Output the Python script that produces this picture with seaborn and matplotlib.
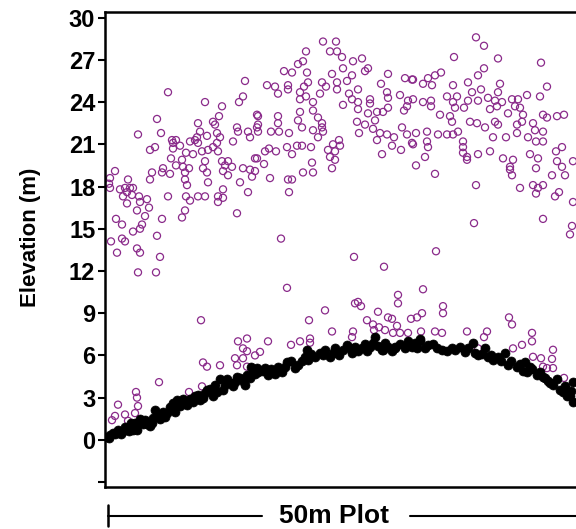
import matplotlib
matplotlib.use('Agg')
import matplotlib.pyplot as plt
import seaborn as sns
from matplotlib.lines import Line2D

sns.set_theme(style='white')
plt.rcParams['font.family'] = ['Liberation Sans', 'DejaVu Sans']
plt.rcParams['text.color'] = 'black'
plt.rcParams['axes.labelcolor'] = 'black'
plt.rcParams['ytick.color'] = 'black'

# Canopy returns (open purple circles): x = distance along plot (m), y = elevation (m)
canopy_x = [
    14.0, 6.3, 13.8, 13.4, 10.0, 11.7, 15.2, 11.4, 5.2, 9.3, 10.8, 11.0, 13.2, 15.2, 5.6, 3.3, 9.5, 11.2,
    13.3, 14.3, 9.2, 10.2, 11.5, 14.5, 6.7, 7.1, 8.5, 9.0, 12.8, 6.8, 11.2, 9.3, 7.5, 5.0, 4.5, 10.8,
    10.3, 6.8, 11.3, 8.1, 8.8, 9.7, 6.6, 7.7, 10.0, 11.7, 12.3, 15.0, 7.1, 7.8, 12.0, 12.7, 5.8, 8.4,
    9.8, 13.8, 14.5, 15.0, 1.0, 4.7, 5.7, 6.5, 8.0, 10.2, 11.8, 12.3, 14.7, 0.5, 4.5, 8.0, 10.3, 2.3,
    13.5, 0.4, 0.5, 8.2, 1.5, 2.0, 2.5, 2.8, 11.8, 14.3, 2.2, 2.7, 1.8, 6.3, 3.4, 8.1, 9.3, 10.0, 11.3,
    11.8, 4.2, 2.2, 3.5, 8.5, 11.3, 4.4, 3.2, 8.0, 13.2, 4.0, 1.1, 5.7, 7.7, 1.7, 3.7, 3.5, 2.8, 5.2,
    1.7, 2.0, 0.6, 3.2, 3.5, 1.2, 5.5, 3.3, 5.1,
    9.6, 13.3, 14.2, 13.8, 14.2, 15.0, 13.0, 13.8, 9.8, 10.2, 11.5, 13.2, 14.2, 5.4, 3.1, 3.2, 9.7,
    3.3, 1.3, 3.0, 2.0, 1.0, 0.7, 2.3, 8.4,
    24.9, 27.9, 18.2, 29.3, 29.3, 25.0, 25.3, 25.6, 22.0, 27.3, 20.4, 26.2, 28.3, 28.7, 30.6, 26.8,
    27.4, 29.2, 22.7, 24.8, 26.9, 28.0, 28.8, 29.5, 30.3, 16.3, 19.5, 20.5, 24.7, 20.5, 18.6, 15.5,
    33.1, 31.8, 33.8, 33.8, 31.7, 31.2, 40.4, 40.7, 31.6, 33.0, 33.7, 36.2, 38.2, 37.9, 42.7, 42.7,
    41.7, 40.8, 44.8, 37.3, 42.8, 43.6, 44.7, 43.8, 44.2, 44.8, 45.9,
    21.8, 23.1, 20.1, 22.5, 23.2, 23.7, 24.8, 25.7, 19.8, 19.3, 23.8, 26.0, 26.3, 17.9, 18.7, 20.2,
    28.3, 22.7, 24.7, 20.3, 21.7, 23.2, 24.2, 30.0, 30.7, 16.2, 17.0, 18.3, 19.9, 22.1, 27.6, 18.3,
    23.2, 25.3, 17.3, 19.5, 21.5, 20.1, 24.4, 28.2, 29.5, 19.5, 20.8, 24.7, 26.5, 28.3, 30.3, 23.8,
    25.3, 26.5, 28.3, 30.2, 19.5, 20.8, 25.3, 26.3, 27.2, 27.8, 29.9, 17.3, 15.3, 19.3, 21.3, 21.7,
    25.2, 27.0, 15.3, 17.3, 19.7, 21.7, 26.0, 29.7, 15.3, 16.6, 17.4, 18.4, 20.8, 21.8, 25.4, 26.8,
    27.5, 28.2, 30.2, 21.3, 27.2, 23.4, 28.9, 30.7, 18.2, 19.2, 19.7, 20.6, 22.8, 23.5, 28.7, 29.6,
    16.4, 22.3, 23.0, 16.0, 17.1, 18.7, 27.7, 22.5, 23.0, 15.2, 15.9, 20.7, 22.7, 19.8, 20.8, 16.5,
    18.3, 18.7, 18.4, 17.6,
    37.1, 37.9, 34.9, 39.3, 43.6, 37.9, 33.6, 33.0, 32.3, 31.8, 32.7, 37.3, 34.8, 36.3, 39.5, 44.2,
    30.8, 37.6, 36.7, 43.5, 42.2, 39.3, 34.2, 35.2, 38.3, 40.7, 41.3, 30.8, 31.8, 32.6, 34.8, 36.3,
    37.3, 39.0, 39.7, 32.6, 35.0, 35.9, 38.5, 39.2, 41.0, 41.5, 41.8, 40.3, 33.5, 34.5, 43.8, 45.2,
    45.9, 44.2, 34.7, 36.5, 37.2, 38.0, 39.0, 39.3, 41.2, 41.7, 42.8, 35.3, 34.8, 34.2, 33.3, 32.2,
    31.1, 38.8, 40.1, 41.2, 43.0, 43.8, 42.3, 43.1, 43.8, 35.8, 32.2, 30.8, 32.3, 35.8, 35.8, 36.2,
    36.2, 37.3, 38.5, 42.5, 43.3, 45.1, 45.7, 46.8, 32.0, 31.1, 39.8, 40.8, 45.2, 45.7, 40.5, 40.5,
    43.1, 44.7, 46.0, 33.0, 40.7, 37.1, 41.5, 42.8, 43.3, 43.8, 43.1, 45.0, 45.4, 46.8, 43.8, 36.9,
    46.7, 46.5,
]
canopy_y = [
    25.5, 24.7, 24.4, 24.0, 24.0, 23.7, 23.1, 23.0, 22.8, 22.5, 22.6, 22.4, 22.2, 22.2, 21.8, 21.7, 21.9, 21.8,
    21.9, 21.9, 21.5, 21.6, 21.5, 21.5, 21.3, 21.3, 21.2, 21.3, 21.2, 21.1, 21.1, 21.1, 20.9, 20.8, 20.6, 20.8,
    20.6, 20.7, 20.5, 20.4, 20.3, 20.5, 20.0, 19.9, 19.8, 19.8, 19.8, 20.0, 19.5, 19.4, 19.5, 19.4, 19.3, 19.3,
    19.3, 19.3, 19.2, 19.1, 19.1, 19.0, 19.0, 18.9, 19.0, 19.0, 19.1, 18.8, 18.7, 18.6, 18.5, 18.5, 18.3, 18.5,
    18.3, 18.2, 17.9, 18.1, 17.8, 17.9, 17.9, 17.9, 17.8, 17.6, 17.6, 17.4, 17.3, 17.3, 17.3, 17.3, 17.3, 17.3, 17.3,
    17.2, 17.1, 16.8, 16.9, 17.0, 16.9, 16.5, 16.3, 16.3, 16.1, 15.9, 15.7, 15.7, 15.8, 15.3, 15.3, 15.0, 14.8, 14.5,
    14.3, 14.1, 14.1, 13.6, 13.3, 13.3, 13.0, 11.9, 11.9,
    8.5, 7.0, 7.2, 6.5, 6.3, 6.0, 5.8, 5.8, 5.5, 5.2, 5.3, 5.3, 5.2, 4.1, 3.4, 3.0, 3.8,
    2.4, 2.5, 1.9, 1.8, 1.7, 1.4, 1.35, 3.4,
    13.0, 12.3, 10.8, 10.3, 9.7, 9.7, 9.8, 9.5, 9.2, 9.1, 8.5, 8.5, 8.7, 8.6, 8.6, 8.2,
    8.0, 8.1, 7.7, 7.7, 7.8, 7.8, 7.6, 7.6, 7.6, 7.0, 7.0, 7.2, 7.3, 6.9, 6.75, 6.25,
    13.4, 10.7, 9.5, 9.0, 9.0, 8.7, 8.7, 8.2, 7.7, 7.7, 7.6, 7.7, 7.7, 7.3, 7.6, 7.0,
    6.75, 6.5, 6.4, 6.5, 5.9, 5.8, 5.75, 5.2, 5.1, 5.1, 4.4,
    28.3, 28.3, 27.6, 27.6, 27.6, 27.2, 26.9, 27.1, 26.9, 26.7, 26.4, 26.2, 26.4, 26.2, 26.1, 26.1,
    26.0, 26.0, 25.9, 25.4, 25.4, 25.4, 25.5, 25.7, 25.6, 25.2, 25.1, 25.2, 25.1, 25.1, 25.3, 24.9,
    24.9, 24.9, 24.6, 24.7, 24.6, 24.4, 24.6, 24.7, 24.5, 24.2, 24.0, 24.2, 24.2, 24.3, 24.1, 23.8,
    24.0, 23.9, 23.6, 23.7, 23.3, 23.4, 23.5, 23.2, 23.3, 23.3, 23.4, 23.0, 23.0, 22.7, 22.9, 22.5,
    22.6, 22.7, 22.4, 22.5, 22.2, 22.2, 22.4, 22.2, 21.9, 21.9, 21.9, 21.8, 22.0, 21.9, 21.8, 22.1,
    21.8, 21.7, 21.7, 21.5, 21.3, 21.3, 21.5, 21.1, 20.8, 20.9, 20.9, 20.8, 21.0, 20.9, 20.9, 20.6,
    20.7, 20.6, 20.5, 20.5, 20.5, 20.3, 20.3, 20.1, 19.9, 20.0, 19.6, 19.7, 19.3, 19.0, 19.0, 18.6,
    18.5, 18.5, 17.6, 14.3,
    28.6, 28.0, 27.2, 27.1, 26.8, 26.4, 26.1, 25.9, 25.7, 25.3, 25.2, 25.9, 25.2, 25.4, 25.3, 25.1,
    25.6, 24.9, 24.7, 24.4, 24.5, 24.7, 24.4, 24.4, 24.3, 24.2, 24.2, 24.2, 24.0, 24.1, 24.0, 24.1,
    24.1, 24.1, 24.0, 23.7, 23.6, 23.6, 23.5, 23.7, 23.7, 23.6, 23.1, 23.2, 23.1, 23.0, 23.1, 23.0,
    23.1, 22.9, 22.6, 22.6, 22.5, 22.2, 22.6, 22.4, 22.4, 22.6, 22.5, 21.9, 21.7, 21.7, 21.7, 21.9,
    21.8, 21.5, 21.5, 21.8, 22.0, 21.9, 21.5, 21.2, 21.2, 21.2, 21.2, 21.0, 20.8, 20.8, 20.4, 20.1,
    19.9, 20.3, 20.5, 20.3, 20.0, 20.5, 20.8, 19.8, 20.1, 19.5, 20.0, 19.9, 19.8, 19.4, 19.4, 19.2,
    19.3, 18.8, 18.8, 18.9, 18.8, 18.1, 17.9, 18.1, 17.9, 18.1, 17.5, 17.3, 17.6, 16.9, 15.7, 15.4,
    15.2, 14.6,
]

# Ground returns (filled black dots)
ground_x = [
    0.2, 0.5, 0.8, 1.8, 2.2, 2.7, 3.0, 2.8, 3.8, 4.3, 4.8, 5.0, 4.7, 6.2, 6.5, 7.2, 7.0, 8.2, 8.8, 9.3,
    9.8, 10.2, 10.8, 11.0, 11.5, 11.8, 12.5, 13.0, 13.5, 14.0, 14.5, 14.8, 15.2, 3.2, 4.2, 6.8, 9.0, 1.3,
    15.3, 16.0, 16.3, 17.3, 17.7, 18.2, 19.3, 20.0, 20.2, 20.3, 21.5, 22.0, 22.5, 23.0, 23.8, 24.2, 24.7,
    25.0, 25.7, 26.5, 26.8, 27.0, 27.7, 28.3, 29.0, 30.2, 30.7, 27.8, 29.0, 30.3, 31.5,
    31.5, 31.2, 32.3, 33.2, 33.7, 34.7, 35.5, 36.0, 36.8, 37.3, 38.0, 38.3, 38.8, 39.3, 40.0, 40.3, 41.2,
    42.0, 42.2, 42.7, 43.5, 44.0, 44.5, 45.2, 45.5, 46.0, 46.5, 46.8, 46.8,
    0.4, 1.0, 1.3, 1.6, 2.0, 2.4, 2.6, 3.1, 3.5, 4.0, 4.5, 5.2, 5.5, 5.8, 6.0,
    6.8, 7.5, 7.8, 8.5, 9.5, 10.0, 10.5, 11.2, 12.0, 12.2, 12.8, 13.2, 13.8, 14.2, 15.0, 14.6,
    15.8, 16.6, 17.0, 18.0, 18.6, 19.0, 19.7, 20.6, 21.0, 21.8, 22.8, 23.4, 24.5, 25.3, 26.0, 26.2,
    27.3, 28.0, 28.7, 29.5, 30.0,
    31.0, 32.0, 32.8, 34.2, 35.0, 36.3, 37.0, 37.7, 38.6, 39.6, 40.6, 41.5, 41.8, 42.5, 43.2, 43.8,
    44.3, 44.8, 45.8, 46.2, 46.6,
]
ground_y = [
    0.2, 0.35, 0.5, 0.6, 0.85, 0.9, 1.2, 0.7, 1.1, 1.3, 1.55, 2.1, 1.2, 1.9, 2.35, 2.8, 2.0, 2.5, 2.7, 3.2,
    3.0, 3.55, 3.1, 3.9, 4.3, 3.55, 4.05, 4.1, 4.4, 3.9, 4.4, 4.8, 5.1, 0.7, 1.1, 2.6, 3.1, 0.55,
    4.8, 5.1, 4.6, 5.2, 4.8, 5.5, 5.3, 5.9, 6.4, 5.7, 6.2, 6.4, 5.9, 6.5, 6.4, 6.75, 6.2,
    6.6, 6.5, 6.6, 6.9, 7.3, 6.4, 6.6, 6.5, 6.75, 6.6, 6.4, 6.6, 7.0, 7.2,
    7.0, 6.5, 6.75, 6.5, 6.4, 6.5, 6.6, 6.25, 6.9, 6.0, 6.5, 5.9, 5.7, 5.9, 6.2, 5.3, 5.2,
    5.5, 4.8, 5.0, 4.8, 4.4, 4.05, 4.3, 3.55, 3.8, 3.1, 4.1, 2.7,
    0.1, 0.4, 0.7, 0.45, 0.9, 0.6, 1.2, 0.9, 1.5, 1.4, 1.0, 1.7, 1.5, 2.0, 1.6,
    2.2, 2.4, 2.9, 2.9, 2.8, 3.3, 3.6, 3.4, 3.9, 4.3, 3.8, 4.5, 4.2, 4.6, 4.7, 5.2,
    4.9, 5.0, 4.7, 5.2, 5.6, 5.1, 5.6, 6.1, 5.9, 6.0, 6.2, 6.0, 6.5, 6.3, 6.8, 6.3,
    6.7, 6.9, 6.3, 6.8, 6.5,
    6.9, 6.5, 6.8, 6.3, 6.4, 6.5, 6.2, 6.1, 6.0, 5.6, 5.6, 5.4, 4.9, 5.2, 4.6, 4.5,
    4.2, 3.9, 3.4, 3.1, 3.5,
]

y_ticks = [-3, 0, 3, 6, 9, 12, 15, 18, 21, 24, 27, 30]
y_tick_labels = ['', '0', '3', '6', '9', '12', '15', '18', '21', '24', '27', '30']

W, H = 576, 529
fig = plt.figure(figsize=(W / 100, H / 100), dpi=100)
ax = fig.add_axes([105 / W, (H - 487) / H, 1 - 105 / W, (487 - 12) / H])

purple = '#8a2a8a'
sns.scatterplot(x=canopy_x, y=canopy_y, ax=ax, marker='o', s=26,
                facecolor='none', edgecolor=purple, linewidth=0.9, zorder=2)
sns.scatterplot(x=ground_x, y=ground_y, ax=ax, marker='o', s=42,
                color='black', edgecolor='black', linewidth=0.5, zorder=3)

ax.set_xlim(0, 47.1)
ax.set_ylim(-3.35, 30.4)
ax.set_xticks([])
ax.set_yticks(y_ticks)
ax.set_yticklabels(y_tick_labels, fontweight='bold', fontsize=17, color='black')
ax.tick_params(axis='y', direction='out', length=5, width=1.5, left=True, pad=2, colors='black')
ax.spines['right'].set_visible(False)
for s in ['left', 'top', 'bottom']:
    ax.spines[s].set_linewidth(1.8)
    ax.spines[s].set_color('black')
ax.set_xlabel('')
ax.set_ylabel('Elevation (m)', fontweight='bold', fontsize=16, color='black')
ax.yaxis.set_label_coords(-0.136, 0.525)

# "50m Plot" scale annotation below the axis
yline = 1 - 516 / H
fig.add_artist(Line2D([108 / W, 262 / W], [yline, yline], color='black', lw=1.5, transform=fig.transFigure))
fig.add_artist(Line2D([410 / W, 1.0], [yline, yline], color='black', lw=1.5, transform=fig.transFigure))
fig.add_artist(Line2D([108 / W, 108 / W], [1 - 505 / H, 1 - 526 / H], color='black', lw=1.8, transform=fig.transFigure))
fig.text(334 / W, yline, '50m Plot', ha='center', va='center', fontsize=19, fontweight='bold', color='black')

fig.savefig('out.png', dpi=100)
